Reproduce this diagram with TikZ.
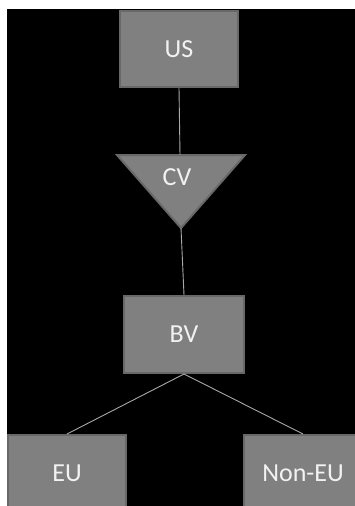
\documentclass[tikz,border=0pt]{standalone}
\usepackage{fontspec}
\setmainfont{Carlito}
\begin{document}
\begin{tikzpicture}[x=1pt,y=-1pt,
  box/.style={draw=boxedge,fill=boxfill,line width=2pt,minimum width=118pt,minimum height=76pt,inner sep=0pt,text=boxtext,font=\fontsize{26}{30}\selectfont},
  lbl/.style={text=boxtext,font=\fontsize{26}{30}\selectfont,inner sep=0pt},
  link/.style={draw=linkcol,line width=0.9pt}]
\definecolor{boxfill}{HTML}{808080}
\definecolor{boxedge}{HTML}{686868}
\definecolor{boxtext}{HTML}{F2F2F2}
\definecolor{linkcol}{HTML}{A8A8A8}
\useasboundingbox (0,0) rectangle (355,506);
\clip (0,0) rectangle (355,506);
\fill[white] (0,0) rectangle (355,506);
\fill[black] (7,9) rectangle (356,507);
% nodes
\node[box] (us) at (179,49) {US};
\node[box,minimum width=120pt,minimum height=77pt] (bv) at (184,334.5) {BV};
\node[box] (eu) at (67,473) {EU};
\node[box] (noneu) at (303,473) {Non-EU};
% triangle CV
\coordinate (cvl) at (117,155);
\coordinate (cvr) at (245,155);
\coordinate (cvapex) at (181,228);
\coordinate (cvtop) at (180,155);
\draw[boxedge,fill=boxfill,line width=2pt,line join=miter] (cvl) -- (cvr) -- (cvapex) -- cycle;
\node[lbl] (cv) at (177,177) {CV};
% connectors
\draw[link] (us.south) -- (cvtop);
\draw[link] (cvapex) -- (bv.north);
\draw[link] (bv.south) -- (eu.north);
\draw[link] (bv.south) -- (noneu.north);
\end{tikzpicture}
\end{document}
